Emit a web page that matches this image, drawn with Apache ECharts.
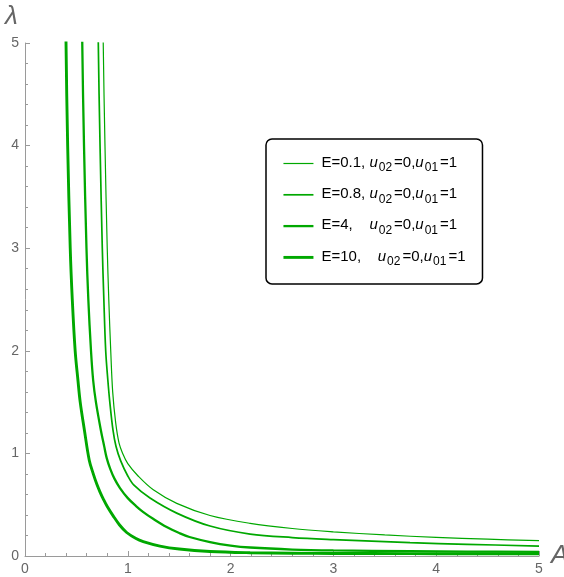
<!DOCTYPE html>
<html>
<head>
<meta charset="utf-8">
<script src="https://cdn.jsdelivr.net/npm/echarts@6/dist/echarts.min.js"></script>
<style>html,body{margin:0;padding:0;background:#fff;}#c{width:564px;height:577px;}</style>
</head>
<body>
<div id="c"></div>
<script>
// ---- data ----
const xTicks = [0, 1, 2, 3, 4, 5];
const yTicks = [0, 1, 2, 3, 4, 5];

const seriesNames = ['E=0.1', 'E=0.8', 'E=4', 'E=10'];

// A values and lambda values
const aE01 = [0.758, 0.761, 0.778, 0.800, 0.815, 0.834, 0.853, 0.882, 0.915, 0.950, 1.000, 1.100, 1.248, 1.476, 1.800, 2.190, 2.600, 3.000, 3.500, 4.000, 4.500, 5.000];
const lE01 = [5.6,   5.0,   4.0,   3.0,   2.5,   2.0,   1.6,   1.3,   1.1,   1.0,   0.9,   0.78,  0.645, 0.513, 0.395, 0.318, 0.268, 0.236, 0.205, 0.182, 0.164, 0.149];

const aE08 = [0.710, 0.713, 0.730, 0.752, 0.767, 0.785, 0.806, 0.825, 0.856, 0.885, 0.930, 1.000, 1.060, 1.216, 1.476, 1.800, 2.190, 2.600, 3.000, 3.745, 4.300, 5.000];
const lE08 = [5.6,   5.0,   4.0,   3.0,   2.5,   2.0,   1.713, 1.5,   1.226, 1.07,  0.93,  0.78,  0.69,  0.565, 0.418, 0.292, 0.214, 0.18,  0.16,  0.13,  0.114, 0.097];

const aE4 = [0.554, 0.557, 0.574, 0.598, 0.616, 0.642, 0.663, 0.690, 0.738, 0.770, 0.795, 0.830, 0.870, 0.924, 1.000, 1.080, 1.151, 1.250, 1.378, 1.500, 1.600, 1.800, 2.000, 2.190, 2.600, 3.000, 3.745, 4.300, 5.000];
const lE4 = [5.6,   5.0,   4.0,   3.0,   2.5,   2.0,   1.713, 1.5,   1.226, 1.071, 0.954, 0.847, 0.754, 0.662, 0.564, 0.487, 0.428, 0.360, 0.282, 0.224, 0.185, 0.136, 0.102, 0.083, 0.063, 0.054, 0.047, 0.043, 0.040];

const aE10 = [0.396, 0.399, 0.415, 0.440, 0.460, 0.488, 0.515, 0.537, 0.578, 0.625, 0.665, 0.700, 0.730, 0.762, 0.800, 0.859, 0.920, 0.989, 1.080, 1.150, 1.313, 1.500, 1.800, 2.190, 2.600, 3.000, 3.745, 4.300, 5.000];
const lE10 = [5.6,   5.0,   4.0,   3.0,   2.5,   2.0,   1.713, 1.5,   1.226, 0.934, 0.798, 0.696, 0.623, 0.555, 0.482, 0.389, 0.302, 0.229, 0.170, 0.141, 0.097, 0.068, 0.044, 0.032, 0.027, 0.025, 0.023, 0.022, 0.021];

const legendLabels = {
  'E=0.1': '{f|E=0.1, }{i|u}{s|02}{n|=0,}{i|u}{s|01}{n|=1}',
  'E=0.8': '{f|E=0.8, }{i|u}{s|02}{n|=0,}{i|u}{s|01}{n|=1}',
  'E=4':   '{f|E=4,    }{i|u}{s|02}{n|=0,}{i|u}{s|01}{n|=1}',
  'E=10':  '{f|E=10,    }{i|u}{s|02}{n|=0,}{i|u}{s|01}{n|=1}'
};

function pairs(a, l) { return a.map((v, i) => [v, l[i]]); }
const allData = [pairs(aE01, lE01), pairs(aE08, lE08), pairs(aE4, lE4), pairs(aE10, lE10)];
const widths = [1.2, 1.7, 2.3, 2.9];
const green = '#00a800';
const font = '"Liberation Sans", Arial, sans-serif';

const chart = echarts.init(document.getElementById('c'), null, {renderer: 'canvas'});
const axisGray = '#9a9a9a';
const labelGray = '#666666';

chart.setOption({
  animation: false,
  grid: {left: 25, right: 25, top: 43, bottom: 21, containLabel: false, outerBoundsMode: 'none'},
  xAxis: {
    type: 'value', min: xTicks[0], max: xTicks[xTicks.length - 1], interval: 1,
    name: 'A', nameLocation: 'end', nameGap: 12,
    nameTextStyle: {fontFamily: font, fontSize: 26, fontStyle: 'italic', color: labelGray, verticalAlign: 'middle', padding: [4, 0, 0, 0]},
    axisLine: {show: true, onZero: false, lineStyle: {color: axisGray, width: 1}},
    axisTick: {show: true, inside: true, length: 5, lineStyle: {color: axisGray}},
    minorTick: {show: true, splitNumber: 5, length: 3, lineStyle: {color: axisGray}},
    splitLine: {show: false},
    axisLabel: {fontFamily: font, fontSize: 14, color: labelGray, margin: 6,
      formatter: v => xTicks.includes(v) ? String(v) : ''}
  },
  yAxis: {
    type: 'value', min: yTicks[0], max: yTicks[yTicks.length - 1], interval: 1,
    axisLine: {show: true, onZero: false, lineStyle: {color: axisGray, width: 1}},
    axisTick: {show: true, inside: true, length: 5, lineStyle: {color: axisGray}},
    minorTick: {show: true, splitNumber: 5, length: 3, lineStyle: {color: axisGray}},
    splitLine: {show: false},
    axisLabel: {fontFamily: font, fontSize: 14, color: labelGray, margin: 6,
      formatter: v => yTicks.includes(v) ? String(v) : ''}
  },
  graphic: [{
    type: 'text', left: 5, top: 4,
    style: {text: 'λ', fontFamily: font, fontSize: 26, fontStyle: 'italic', fill: labelGray}
  }],
  legend: {
    orient: 'vertical', left: 266, top: 139,
    padding: [16, 17, 16, 16],
    itemGap: 12.3, itemWidth: 30, itemHeight: 14,
    borderColor: '#000', borderWidth: 1.5, borderRadius: 6, backgroundColor: '#fff',
    itemStyle: {opacity: 0},
    data: seriesNames.map((n, k) => ({name: n, lineStyle: {width: widths[k], color: green}})),
    formatter: name => legendLabels[name],
    textStyle: {
      fontFamily: font,
      rich: {
        f: {fontFamily: font, fontSize: 15, color: '#000', lineHeight: 17, verticalAlign: 'top', padding: [0, 0, 0, 3]},
        n: {fontFamily: font, fontSize: 15, color: '#000', lineHeight: 17, verticalAlign: 'top'},
        i: {fontFamily: font, fontSize: 15, fontStyle: 'italic', color: '#000', lineHeight: 17, verticalAlign: 'top'},
        s: {fontFamily: font, fontSize: 12, color: '#000', lineHeight: 13, verticalAlign: 'top', padding: [7, 2, 0, 1]}
      }
    }
  },
  series: allData.map((d, k) => ({
    name: seriesNames[k], type: 'line', data: d,
    showSymbol: false, symbol: 'none', smooth: 0.35, clip: true,
    lineStyle: {color: green, width: widths[k]},
    itemStyle: {color: green}
  }))
});
</script>
</body>
</html>
